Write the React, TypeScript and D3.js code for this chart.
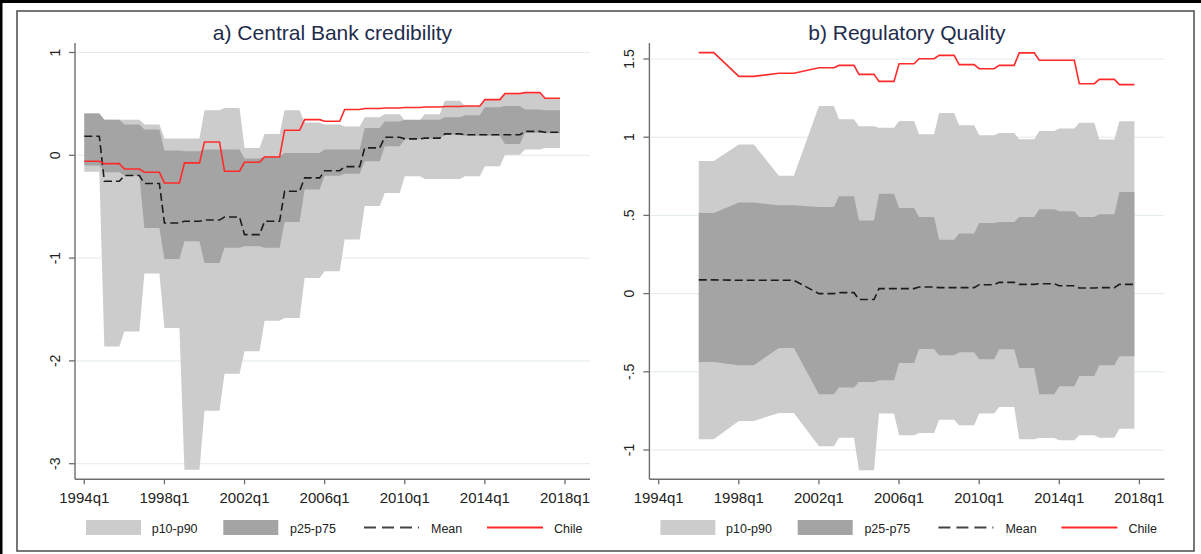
import React from 'react';
import * as d3 from 'd3';

// ---------- data (annual values, plotted on a quarterly axis) ----------
const years = [1994, 1995, 1996, 1997, 1998, 1999, 2000, 2001, 2002, 2003, 2004, 2005,
  2006, 2007, 2008, 2009, 2010, 2011, 2012, 2013, 2014, 2015, 2016, 2017];

const xTickQuarters = [0, 16, 32, 48, 64, 80, 96];
const xTickLabels = ['1994q1', '1998q1', '2002q1', '2006q1', '2010q1', '2014q1', '2018q1'];

// a) Central Bank credibility
const cbTicks = [1, 0, -1, -2, -3];
const cbTickLabels = ['1', '0', '-1', '-2', '-3'];
const cbP90 = [0.406, 0.347, 0.347, 0.30, 0.163, 0.163, 0.438, 0.461, 0.072, 0.208, 0.438, 0.32,
  0.30, 0.28, 0.37, 0.40, 0.34, 0.40, 0.53, 0.48, 0.54, 0.59, 0.60, 0.55];
const cbP75 = [0.406, 0.347, 0.30, 0.25, 0.046, 0.04, 0.056, 0.056, -0.032, -0.01, 0.023, 0.023,
  0.056, 0.056, 0.265, 0.33, 0.347, 0.347, 0.37, 0.39, 0.468, 0.48, 0.445, 0.438];
const cbP25 = [-0.10, -0.165, -0.20, -0.707, -1.008, -0.836, -1.047, -0.90, -0.885, -0.90, -0.65, -0.333,
  -0.20, -0.18, -0.058, 0.088, 0.155, 0.16, 0.20, 0.19, 0.19, 0.11, 0.22, 0.215];
const cbP10 = [-0.16, -1.86, -1.713, -1.151, -1.68, -3.06, -2.485, -2.125, -1.907, -1.609, -1.583, -1.193,
  -1.129, -0.82, -0.493, -0.366, -0.204, -0.23, -0.23, -0.204, -0.107, 0.006, 0.056, 0.072];
const cbMean = [0.185, -0.253, -0.197, -0.275, -0.658, -0.642, -0.63, -0.60, -0.772, -0.642, -0.35, -0.22,
  -0.15, -0.11, 0.072, 0.176, 0.16, 0.167, 0.208, 0.20, 0.20, 0.20, 0.233, 0.224];
const cbChile = [-0.058, -0.081, -0.133, -0.165, -0.269, -0.074, 0.130, -0.155, -0.068, -0.016, 0.244, 0.347,
  0.331, 0.445, 0.455, 0.46, 0.465, 0.47, 0.475, 0.48, 0.542, 0.60, 0.61, 0.555];

// b) Regulatory Quality (biennial before 2002)
const rqTicks = [1.5, 1, 0.5, 0, -0.5, -1];
const rqTickLabels = ['1.5', '1', '.5', '0', '-.5', '-1'];
const rqP90 = [null, null, 0.848, null, 0.953, null, 0.754, null, 1.2, 1.115, 1.07, 1.061,
  1.104, 1.019, 1.155, 1.076, 1.012, 1.027, 0.987, 1.04, 1.055, 1.093, 0.985, 1.102];
const rqP75 = [null, null, 0.515, null, 0.582, null, 0.565, null, 0.554, 0.622, 0.468, 0.639,
  0.548, 0.49, 0.345, 0.384, 0.452, 0.458, 0.49, 0.539, 0.526, 0.49, 0.507, 0.65];
const rqP25 = [null, null, -0.437, null, -0.458, null, -0.348, null, -0.644, -0.601, -0.565, -0.554,
  -0.443, -0.354, -0.394, -0.375, -0.42, -0.356, -0.475, -0.644, -0.593, -0.527, -0.458, -0.401];
const rqP10 = [null, null, -0.932, null, -0.814, null, -0.763, null, -0.976, -0.921, -1.13, -0.767,
  -0.906, -0.891, -0.806, -0.842, -0.767, -0.725, -0.932, -0.923, -0.938, -0.906, -0.921, -0.864];
const rqMean = [null, null, 0.088, null, 0.085, null, 0.085, null, 0.0, 0.006, -0.038, 0.032,
  0.032, 0.042, 0.038, 0.038, 0.057, 0.072, 0.059, 0.063, 0.05, 0.036, 0.038, 0.059];
const rqChile = [null, null, 1.541, null, 1.389, null, 1.409, null, 1.444, 1.459, 1.402, 1.357,
  1.470, 1.502, 1.523, 1.464, 1.438, 1.459, 1.539, 1.492, 1.492, 1.342, 1.370, 1.336];

const legendLabels = ['p10-p90', 'p25-p75', 'Mean', 'Chile'];

// ---------- helpers ----------
type Pt = { t: number; v: number };
type Band = { t: number; lo: number; hi: number };

function toQuarters(vals: (number | null)[]): Pt[] {
  const out: Pt[] = [];
  vals.forEach((v, k) => {
    if (v == null) return;
    const base = (years[k] - 1994) * 4;
    for (let q = 0; q < 4; q++) out.push({ t: base + q, v });
  });
  return out;
}
function toBand(lo: (number | null)[], hi: (number | null)[]): Band[] {
  const out: Band[] = [];
  lo.forEach((l, k) => {
    const h = hi[k];
    if (l == null || h == null) return;
    const base = (years[k] - 1994) * 4;
    for (let q = 0; q < 4; q++) out.push({ t: base + q, lo: l, hi: h });
  });
  return out;
}

const FONT = "'Liberation Sans', Arial, Helvetica, sans-serif";
const LIGHT = '#cccccc';
const DARK = '#a4a4a4';
const RED = '#ff2a2a';
const AXIS = '#6e6e6e';
const GRID = '#e2ebee';

type PanelProps = {
  ox: number;
  title: string;
  ticks: number[];
  tickLabels: string[];
  yDomain: [number, number];
  yRange: [number, number];
  p10: (number | null)[];
  p25: (number | null)[];
  p75: (number | null)[];
  p90: (number | null)[];
  mean: (number | null)[];
  chile: (number | null)[];
};

function Panel(p: PanelProps) {
  const ox = p.ox;
  const x = d3.scaleLinear().domain([0, 96]).range([84.3 + ox, 565 + ox]);
  const y = d3.scaleLinear().domain(p.yDomain).range(p.yRange);
  const left = 75 + ox;
  const right = 590 + ox;
  const top = 43;
  const bottom = 479.3;

  const area = d3.area<Band>().x(d => x(d.t)).y0(d => y(d.lo)).y1(d => y(d.hi));
  const line = d3.line<Pt>().x(d => x(d.t)).y(d => y(d.v));

  const outer = toBand(p.p10, p.p90);
  const inner = toBand(p.p25, p.p75);
  const mean = toQuarters(p.mean);
  const chile = toQuarters(p.chile);

  const lgY = 527.5;
  return (
    <g>
      <text x={(left + right) / 2} y={40} textAnchor="middle" fontFamily={FONT} fontSize={21} fill="#1e2c4c">
        {p.title}
      </text>
      {p.ticks.map(t => (
        <line key={'g' + t} x1={left + 1} x2={right} y1={y(t)} y2={y(t)} stroke={GRID} strokeWidth={1} />
      ))}
      <path d={area(outer) || ''} fill={LIGHT} />
      <path d={area(inner) || ''} fill={DARK} />
      <path d={line(mean) || ''} fill="none" stroke="#1c1c1c" strokeWidth={1.6} strokeDasharray="8 4" />
      <path d={line(chile) || ''} fill="none" stroke={RED} strokeWidth={1.6} />
      {/* axes */}
      <line x1={left} x2={left} y1={top} y2={bottom} stroke={AXIS} strokeWidth={1.4} />
      <line x1={left} x2={right} y1={bottom} y2={bottom} stroke={AXIS} strokeWidth={1.4} />
      {p.ticks.map((t, i) => (
        <g key={'yt' + t}>
          <line x1={left - 6} x2={left} y1={y(t)} y2={y(t)} stroke={AXIS} strokeWidth={1.3} />
          <text transform={`translate(${left - 15.5},${y(t)}) rotate(-90)`} textAnchor="middle"
            fontFamily={FONT} fontSize={14} fill="#222">{p.tickLabels[i]}</text>
        </g>
      ))}
      {xTickQuarters.map((q, i) => (
        <g key={'xt' + q}>
          <line x1={x(q)} x2={x(q)} y1={bottom} y2={bottom + 5} stroke={AXIS} strokeWidth={1.3} />
          <text x={x(q)} y={503} textAnchor="middle" fontFamily={FONT} fontSize={15} fill="#222">
            {xTickLabels[i]}
          </text>
        </g>
      ))}
      {/* legend */}
      <rect x={86 + ox} y={520} width={55} height={15} fill={LIGHT} />
      <text x={151.7 + ox} y={533} fontFamily={FONT} fontSize={12.5} fill="#222">{legendLabels[0]}</text>
      <rect x={223.3 + ox} y={520} width={55} height={15} fill={DARK} />
      <text x={290 + ox} y={533} fontFamily={FONT} fontSize={12.5} fill="#222">{legendLabels[1]}</text>
      <line x1={364 + ox} x2={419 + ox} y1={lgY} y2={lgY} stroke="#444" strokeWidth={2}
        strokeDasharray="12 6" />
      <text x={431 + ox} y={533} fontFamily={FONT} fontSize={12.5} fill="#222">{legendLabels[2]}</text>
      <line x1={487 + ox} x2={543 + ox} y1={lgY} y2={lgY} stroke={RED} strokeWidth={2} />
      <text x={554 + ox} y={533} fontFamily={FONT} fontSize={12.5} fill="#222">{legendLabels[3]}</text>
    </g>
  );
}

export default function App() {
  return (
    <div style={{ position: 'absolute', left: 0, top: 0 }}>
      <svg width={1201} height={554} style={{ display: 'block', background: '#fff' }}>
        <rect x={0} y={0} width={1201} height={554} fill="#fff" />
        <rect x={0} y={0} width={1201} height={3} fill="#000" />
        <rect x={0} y={0} width={2.5} height={554} fill="#000" />
        <rect x={17} y={11} width={1177} height={540} fill="none" stroke="#555" strokeWidth={1.6} />
        <Panel ox={0} title="a) Central Bank credibility"
          ticks={cbTicks} tickLabels={cbTickLabels} yDomain={[-3, 1]} yRange={[463.7, 52.5]}
          p10={cbP10} p25={cbP25} p75={cbP75} p90={cbP90} mean={cbMean} chile={cbChile} />
        <Panel ox={574.4} title="b) Regulatory Quality"
          ticks={rqTicks} tickLabels={rqTickLabels} yDomain={[-1, 1.5]} yRange={[450, 59]}
          p10={rqP10} p25={rqP25} p75={rqP75} p90={rqP90} mean={rqMean} chile={rqChile} />
      </svg>
    </div>
  );
}
